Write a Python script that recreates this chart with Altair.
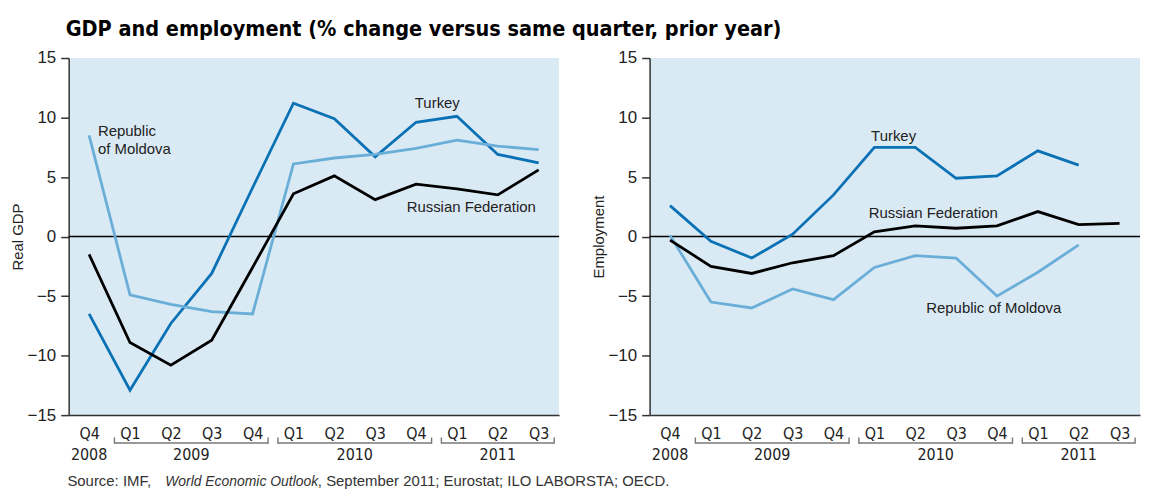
import altair as alt
import pandas as pd

# ---------------- data ----------------
quarters = ["Q4", "Q1", "Q2", "Q3", "Q4", "Q1", "Q2", "Q3", "Q4", "Q1", "Q2", "Q3"]
year_names = ["2008", "2009", "2010", "2011"]
year_first = [0, 1, 5, 9]
year_last = [0, 4, 8, 11]

countries = ["Turkey", "Republic of Moldova", "Russian Federation"]
colors = ["#0a71b5", "#6aaed8", "#000000"]

gdp_turkey = [-6.5, -12.9, -7.3, -3.1, 4.1, 11.2, 9.9, 6.7, 9.6, 10.1, 6.9, 6.2]
gdp_moldova = [8.5, -4.9, -5.7, -6.3, -6.5, 6.1, 6.6, 6.9, 7.4, 8.1, 7.6, 7.3]
gdp_russia = [-1.5, -8.9, -10.8, -8.7, -2.6, 3.6, 5.1, 3.1, 4.4, 4.0, 3.5, 5.6]

emp_turkey = [2.6, -0.4, -1.8, 0.2, 3.5, 7.5, 7.5, 4.9, 5.1, 7.2, 6.0, None]
emp_moldova = [0.1, -5.5, -6.0, -4.4, -5.3, -2.6, -1.6, -1.8, -5.0, -3.0, -0.7, None]
emp_russia = [-0.3, -2.5, -3.1, -2.2, -1.6, 0.4, 0.9, 0.7, 0.9, 2.1, 1.0, 1.1]

gdp_label_text = ["Turkey", "Republic", "of Moldova", "Russian Federation"]
gdp_label_x = [7.97, 0.215, 0.215, 7.77]
gdp_label_y = [10.83, 8.47, 6.95, 2.08]

emp_label_text = ["Turkey", "Russian Federation", "Republic of Moldova"]
emp_label_x = [4.92, 4.86, 6.27]
emp_label_y = [8.06, 1.53, -6.39]

title_text = "GDP and employment (% change versus same quarter, prior year)"
source_parts = ["Source: IMF, ", "World Economic Outlook", ", September 2011; Eurostat; ILO LABORSTA; OECD."]

# ---------------- layout ----------------
W = 493
H = 359
FONT = "Liberation Sans"
NARROW = "DejaVu Sans Condensed"
TXT = "#222222"

label_expr = "[" + ",".join("'%s'" % q for q in quarters) + "][datum.value]"

xscale = alt.Scale(domain=[-0.5, 11.5], nice=False, zero=False)
yscale = alt.Scale(domain=[-15, 15], nice=False, zero=False)


def xaxis():
    return alt.Axis(
        values=list(range(12)), labelExpr=label_expr, ticks=False, grid=False,
        domain=True, labelFont=NARROW, labelFontSize=16, labelColor=TXT,
        labelPadding=11, labelOverlap=False, labelBound=False, labelFlush=False, title=None)


def yaxis(ytitle):
    return alt.Axis(
        values=[-15, -10, -5, 0, 5, 10, 15], grid=False, tickSize=8,
        labelFont=FONT, labelFontSize=17, labelColor=TXT, labelPadding=5,
        title=ytitle, titleFont=FONT, titleFontSize=15, titleFontWeight="normal",
        titleColor=TXT, titleX=-43, titleY=H / 2)


def panel(series, ytitle, lab_text, lab_x, lab_y, header):
    rows = []
    for c, vals in zip(countries, series):
        for i, v in enumerate(vals):
            if v is not None:
                rows.append({"idx": i, "value": v, "country": c})
    df = pd.DataFrame(rows)

    X = lambda f: alt.X(f, scale=xscale, axis=xaxis())
    Y = lambda f: alt.Y(f, scale=yscale, axis=yaxis(ytitle))

    lines = alt.Chart(df).mark_line(strokeWidth=2.8).encode(
        x=X("idx:Q"),
        y=Y("value:Q"),
        color=alt.Color("country:N", scale=alt.Scale(domain=countries, range=colors), legend=None),
        order="idx:Q",
    )

    zero = alt.Chart(pd.DataFrame({"z": [0]})).mark_rule(color="black", strokeWidth=1.6).encode(
        y=Y("z:Q")
    )

    labs = alt.Chart(pd.DataFrame({"t": lab_text, "x": lab_x, "y": lab_y})).mark_text(
        align="left", baseline="alphabetic", font=FONT, fontSize=15, color=TXT
    ).encode(
        x=X("x:Q"),
        y=Y("y:Q"),
        text="t:N",
    )

    ydf = pd.DataFrame({
        "year": year_names,
        "mid": [(a + b) / 2 for a, b in zip(year_first, year_last)],
        "b0": [a - 0.5 + 0.12 for a in year_first],
        "b1": [b + 0.5 - 0.12 for b in year_last],
        "span": [b - a for a, b in zip(year_first, year_last)],
    })

    years = alt.Chart(ydf).mark_text(
        baseline="alphabetic", font=NARROW, fontSize=16, color=TXT
    ).encode(
        x=X("mid:Q"),
        y=alt.value(H + 45),
        text="year:N",
    )

    bdf = ydf[ydf["span"] > 0]
    brackets = alt.Chart(bdf).mark_rule(color="#777777", strokeWidth=1.4).encode(
        x=X("b0:Q"),
        x2="b1:Q",
        y=alt.value(H + 28),
    )
    ends_rows = []
    for _, r in bdf.iterrows():
        ends_rows.append({"p": r["b0"]})
        ends_rows.append({"p": r["b1"]})
    ends = alt.Chart(pd.DataFrame(ends_rows)).mark_rule(color="#777777", strokeWidth=1.4).encode(
        x=X("p:Q"),
        y=alt.value(H + 22.5),
        y2=alt.value(H + 28.7),
    )

    layers = [zero, lines, labs, years, brackets, ends]

    if header:
        t = alt.Chart(pd.DataFrame({"t": [title_text]})).mark_text(
            align="left", baseline="top", font=NARROW, fontSize=21.6,
            fontWeight="bold", color="black"
        ).encode(x=alt.value(-3), y=alt.value(-39), text="t:N")
        layers.append(t)
        src_x = [-1.3, 97, 250.5]
        styles = ["normal", "italic", "normal"]
        sizes = [15, 14, 15]
        for part, sx, st, fs in zip(source_parts, src_x, styles, sizes):
            s = alt.Chart(pd.DataFrame({"t": [part]})).mark_text(
                align="left", baseline="alphabetic", font=FONT, fontSize=fs,
                fontStyle=st, color="#333333"
            ).encode(x=alt.value(sx), y=alt.value(H + 71), text="t:N")
            layers.append(s)

    return alt.layer(*layers).properties(width=W, height=H)


left = panel([gdp_turkey, gdp_moldova, gdp_russia], "Real GDP",
             gdp_label_text, gdp_label_x, gdp_label_y, True)
right = panel([emp_turkey, emp_moldova, emp_russia], "Employment",
              emp_label_text, emp_label_x, emp_label_y, False)

chart = alt.hconcat(left, right, spacing=91, bounds="flush").properties(
    padding={"left": 3, "top": 10, "right": 0, "bottom": 0}
).configure_view(
    fill="#daeaf5", strokeWidth=0
).configure_axis(
    domainColor="#333333", domainWidth=1.5, tickColor="#333333", tickWidth=1.5
)

chart.save("out.html", embed_options={"renderer": "svg", "actions": False})
